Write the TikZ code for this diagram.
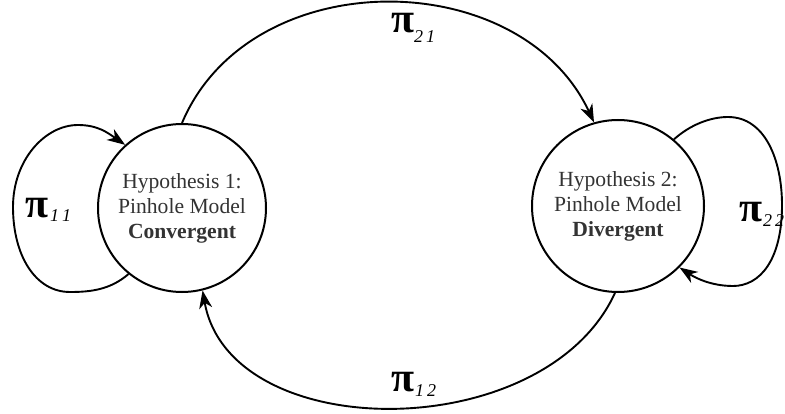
\documentclass[tikz,border=0pt]{standalone}
\usepackage{fontspec}
\setmainfont{Liberation Serif}
\newfontfamily\tmsfont{Liberation Serif}
\usetikzlibrary{arrows.meta}
\definecolor{txtgray}{HTML}{333333}
\tikzset{
  hyp/.style={circle,draw=black,line width=2pt,inner sep=0pt,align=center,
    font=\tmsfont\fontsize{21.6}{25}\selectfont,text=txtgray},
  trans/.style={draw=black,line width=1.9pt,
    -{Stealth[length=18pt,width=13pt,inset=5.5pt]}},
  pilab/.style={inner sep=0pt,font=\tmsfont\fontsize{42}{42}\selectfont\bfseries},
  sublab/.style={inner sep=0pt,font=\tmsfont\fontsize{18}{18}\selectfont\itshape}
}
\newcommand{\spc}{\hspace{3pt}}
\begin{document}
\begin{tikzpicture}[x=1pt,y=-1pt]
\useasboundingbox (0,0) rectangle (785,414);
\node[hyp,minimum size=168pt] (h1) at (182,208) {Hypothesis 1:\\Pinhole Model\\\textbf{Convergent}};
\node[hyp,minimum size=172pt] (h2) at (618,206) {Hypothesis 2:\\Pinhole Model\\\textbf{Divergent}};
% top arc 1 -> 2
\draw[trans] (h1.90) .. controls (250,-38) and (520,-36) .. (h2.106);
% bottom arc 2 -> 1
\draw[trans] (h2.268) .. controls (545,446) and (230,446) .. (h1.284);
% left self loop
\coordinate (l1) at (70,292);
\coordinate (l2) at (13,207);
\coordinate (l3) at (78,125);
\draw[trans] (h1.231) .. controls (110,290) and (90,292) .. (l1)
  .. controls (35,292) and (13,255) .. (l2)
  .. controls (13,160) and (45,125) .. (l3)
  .. controls (98,125) and (108,133) .. (h1.132);
% right self loop
\coordinate (r1) at (728,117);
\coordinate (r2) at (782,205);
\coordinate (r3) at (733,286);
\draw[trans] (h2.50) .. controls (690,125) and (710,117) .. (r1)
  .. controls (765,117) and (782,160) .. (r2)
  .. controls (782,260) and (760,286) .. (r3)
  .. controls (710,286) and (694,277) .. (h2.315);
% labels
\node[pilab] (p21) at (403,23) {π};
\node[sublab,anchor=west] (s21) at (414,37) {2\spc1};
\node[pilab] (p12) at (403,382) {π};
\node[sublab,anchor=west] (s12) at (415,391) {1\spc2};
\node[pilab] (p11) at (37,208) {π};
\node[sublab,anchor=west] (s11) at (50,216) {1\spc1};
\node[pilab] (p22) at (751,212) {π};
\node[sublab,anchor=west] (s22) at (763,221) {2\spc2};
\end{tikzpicture}
\end{document}
